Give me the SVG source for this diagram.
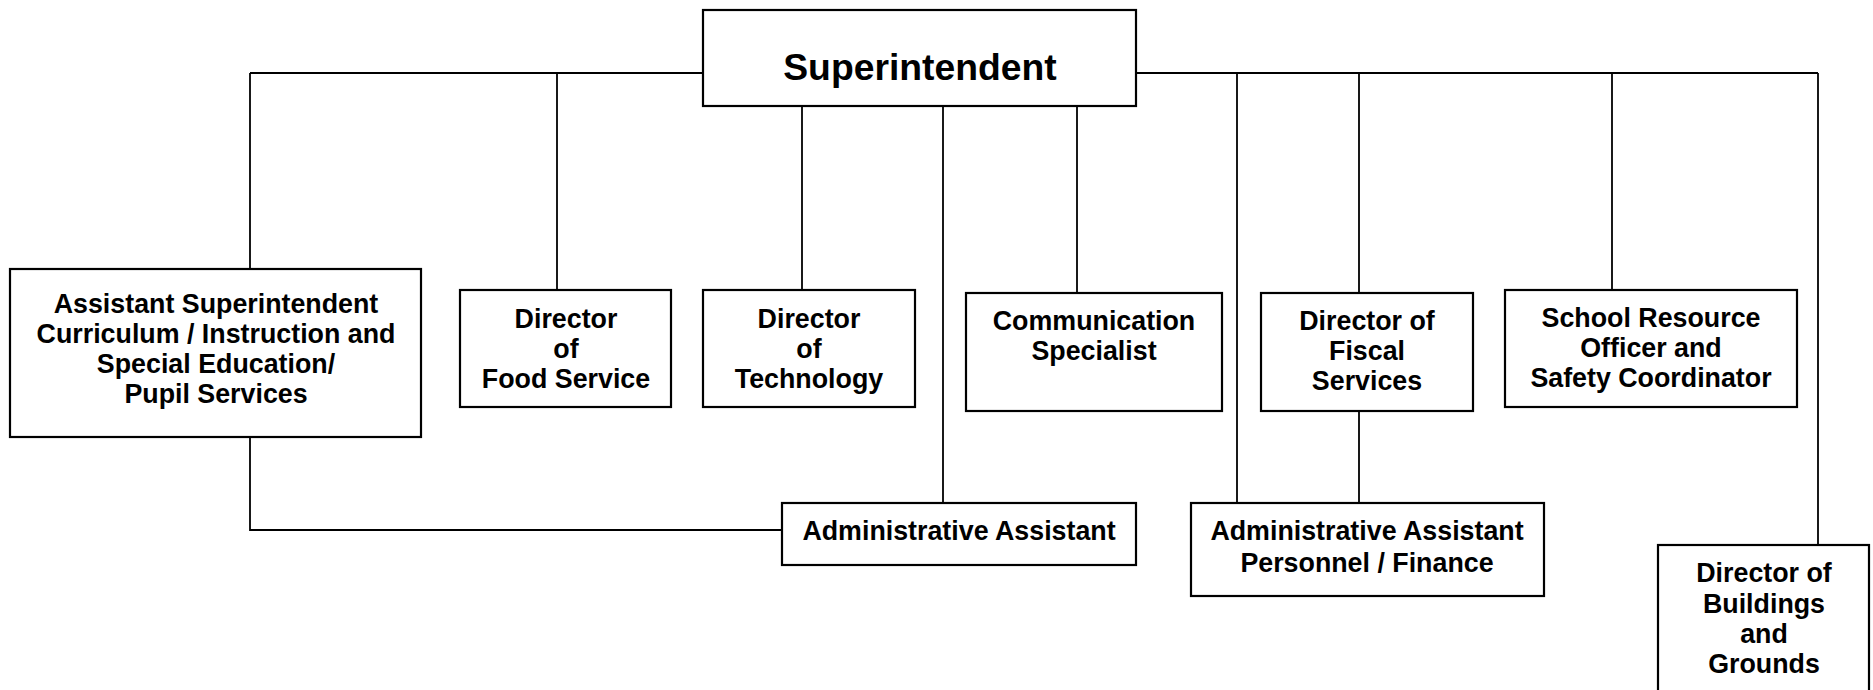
<svg xmlns="http://www.w3.org/2000/svg" width="1873" height="690" viewBox="0 0 1873 690">
<style>
.box{fill:#fff;stroke:#000;stroke-width:2.2}
.ln{fill:none;stroke:#000;stroke-width:1.8}
.t{font-family:"Liberation Sans",Arial,sans-serif;font-weight:bold;font-size:26.8px;text-anchor:middle;fill:#000}
.big{font-size:37.3px}
</style>
<rect width="1873" height="690" fill="#fff"/>
<g id="connectors">
<path class="ln" d="M250,73 H703 M1136,73 H1818"/>
<path class="ln" d="M250,73 V270"/>
<path class="ln" d="M557,73 V290"/>
<path class="ln" d="M802,106 V290"/>
<path class="ln" d="M943,106 V503"/>
<path class="ln" d="M1077,106 V293"/>
<path class="ln" d="M1237,73 V503"/>
<path class="ln" d="M1359,73 V293 M1359,411 V503"/>
<path class="ln" d="M1612,73 V290"/>
<path class="ln" d="M1818,73 V545"/>
<path class="ln" d="M250,437 V530 H782"/>
</g>
<g id="superintendent">
<rect class="box" x="703" y="10" width="433" height="96"/>
<text class="t big" x="920" y="80">Superintendent</text>
</g>
<g id="asst-super">
<rect class="box" x="10" y="269" width="411" height="168"/>
<text class="t" x="216" y="312.5">Assistant Superintendent</text>
<text class="t" x="216" y="342.5">Curriculum / Instruction and</text>
<text class="t" x="216" y="372.5">Special Education/</text>
<text class="t" x="216" y="402.5">Pupil Services</text>
</g>
<g id="food">
<rect class="box" x="460" y="290" width="211" height="117"/>
<text class="t" x="566" y="327.5">Director</text>
<text class="t" x="566" y="357.5">of</text>
<text class="t" x="566" y="387.5">Food Service</text>
</g>
<g id="tech">
<rect class="box" x="703" y="290" width="212" height="117"/>
<text class="t" x="809" y="327.5">Director</text>
<text class="t" x="809" y="357.5">of</text>
<text class="t" x="809" y="387.5">Technology</text>
</g>
<g id="comm">
<rect class="box" x="966" y="293" width="256" height="118"/>
<text class="t" x="1094" y="329.5">Communication</text>
<text class="t" x="1094" y="359.5">Specialist</text>
</g>
<g id="fiscal">
<rect class="box" x="1261" y="293" width="212" height="118"/>
<text class="t" x="1367" y="329.5">Director of</text>
<text class="t" x="1367" y="359.5">Fiscal</text>
<text class="t" x="1367" y="389.5">Services</text>
</g>
<g id="sro">
<rect class="box" x="1505" y="290" width="292" height="117"/>
<text class="t" x="1651" y="326.5">School Resource</text>
<text class="t" x="1651" y="356.5">Officer and</text>
<text class="t" x="1651" y="387">Safety Coordinator</text>
</g>
<g id="admin-asst">
<rect class="box" x="782" y="503" width="354" height="62"/>
<text class="t" x="959" y="539.5">Administrative Assistant</text>
</g>
<g id="admin-personnel">
<rect class="box" x="1191" y="503" width="353" height="93"/>
<text class="t" x="1367" y="539.5">Administrative Assistant</text>
<text class="t" x="1367" y="571.5">Personnel / Finance</text>
</g>
<g id="buildings">
<rect class="box" x="1658" y="545" width="211" height="160"/>
<text class="t" x="1764" y="581.5">Director of</text>
<text class="t" x="1764" y="612.5">Buildings</text>
<text class="t" x="1764" y="642.5">and</text>
<text class="t" x="1764" y="672.5">Grounds</text>
</g>
</svg>
